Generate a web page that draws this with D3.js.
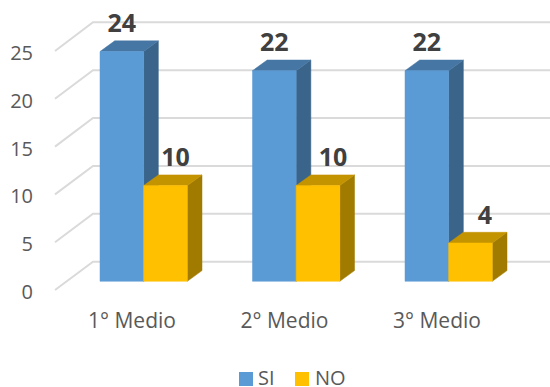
<!DOCTYPE html>
<html><head><meta charset="utf-8">
<script src="https://cdn.jsdelivr.net/npm/d3@7"></script>
<style>html,body{margin:0;padding:0;background:#fff}svg{display:block}text{font-family:"Open Sans",sans-serif}</style>
</head><body><svg id="c" width="550" height="387"></svg>
<script>
const categories = ["1° Medio","2° Medio","3° Medio"];
const seriesNames = ["SI","NO"];
const siValues = [24,22,22];
const noValues = [10,10,4];
const yTicks = [0,5,10,15,20,25];
const svg = d3.select("#c");
const colors = {SI:{f:"#5B9BD5",t:"#4676A3",s:"#3A6489"},NO:{f:"#FFC000",t:"#C49300",s:"#A17A00"}};
const yFront = d3.scaleLinear().domain([0,25]).range([281.3,42]);
const yBack = d3.scaleLinear().domain([0,25]).range([261.7,22.3]);
const yWall = d3.scaleLinear().domain([0,25]).range([290,51]);
const x = d3.scaleBand().domain(categories).range([100,557.5]).paddingInner(0).paddingOuter(0);
const xs = d3.scaleBand().domain(seriesNames).range([0,87.3]);
const dx=14.7, dy=10.7;
// grid
const g = svg.append("g").attr("fill","none").attr("stroke","#DADADA").attr("stroke-width",2);
yTicks.forEach(t=>{
  g.append("path").attr("d",d3.line()([[55,yWall(t)],[93,yBack(t)],[550,yBack(t)]]));
});
// axis labels
const ax = svg.append("g").attr("transform","translate(33,2)")
  .call(d3.axisLeft(yWall).tickValues(yTicks).tickSize(0).tickPadding(0));
ax.select(".domain").remove();
ax.selectAll("text").attr("font-size",20).attr("fill","#595959").style("font-family",'"Open Sans",sans-serif');
// bars
const rows = categories.map((c,i)=>[{c,s:"SI",v:siValues[i],i},{c,s:"NO",v:noValues[i],i}]);
rows.forEach(r=>r.forEach(d=>{
  const x0=x(d.c)+xs(d.s), w=xs.bandwidth(), y0=yFront(0), y1=yFront(d.v), col=colors[d.s];
  const poly=(pts,fill)=>svg.append("polygon").attr("points",pts.join(" ")).attr("fill",fill)
    .attr("stroke",fill).attr("stroke-width",.5);
  poly([[x0+w,y1],[x0+w+dx,y1-dy],[x0+w+dx,y0-dy],[x0+w,y0]],col.s);
  poly([[x0,y1],[x0+dx,y1-dy],[x0+w+dx,y1-dy],[x0+w,y1]],col.t);
  poly([[x0,y1],[x0+w,y1],[x0+w,y0],[x0,y0]],col.f);
}));
// data labels
const labelOffset={SI:[0,0,0],NO:[10,15,14.5]};
rows.forEach(r=>r.forEach(d=>{
  svg.append("text").attr("x",x(d.c)+xs(d.s)+xs.bandwidth()/2+labelOffset[d.s][d.i]).attr("y",yFront(d.v)-19.5)
    .attr("text-anchor","middle").attr("font-size",25).attr("font-weight",700).attr("fill","#404040").text(d.v);
}));
// category labels
categories.forEach(c=>{
  svg.append("text").attr("x",x(c)+32).attr("y",327.7).attr("text-anchor","middle")
    .attr("font-size",21).attr("fill","#595959").text(c);
});
// legend
const legendX={SI:239,NO:295};
seriesNames.forEach(s=>{
  svg.append("rect").attr("x",legendX[s]).attr("y",372).attr("width",14).attr("height",14).attr("fill",colors[s].f);
  svg.append("text").attr("x",legendX[s]+(s==="SI"?19:20)).attr("y",385).attr("font-size",20).attr("fill","#595959").text(s);
});
</script></body></html>
